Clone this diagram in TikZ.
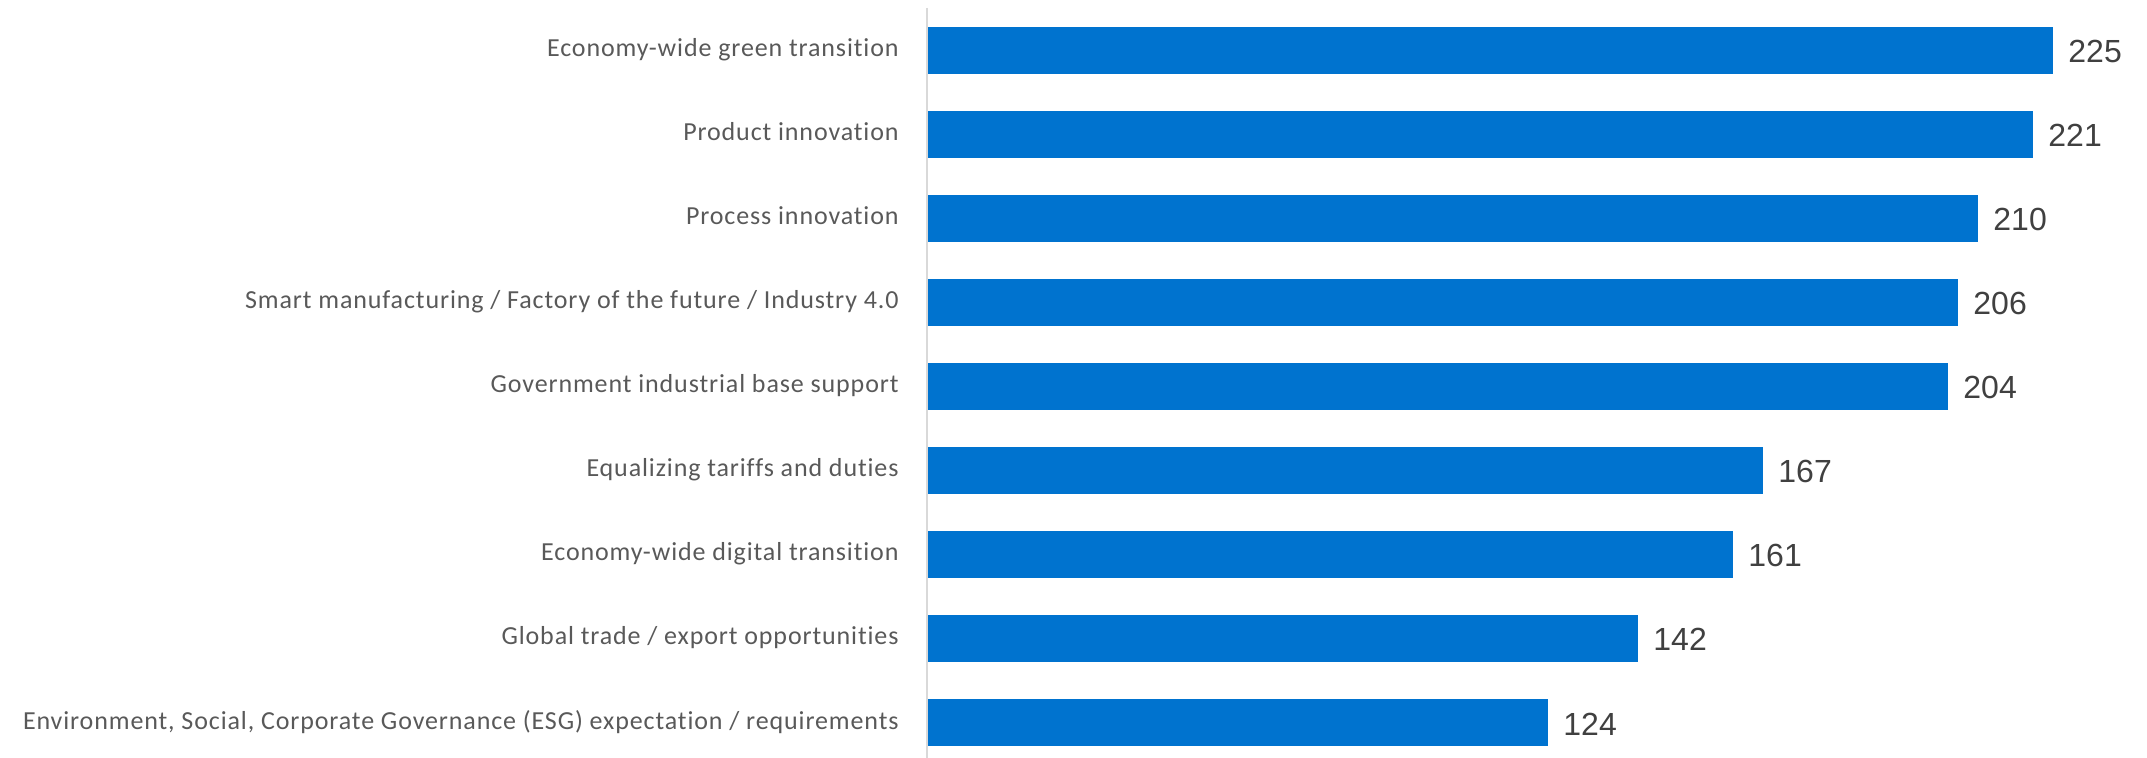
\documentclass[tikz,border=0pt]{standalone}
\usepackage{fontspec}
\setmainfont{Carlito}[LetterSpace=3.4,Ligatures=NoCommon]
\newfontfamily\numfont{Liberation Sans}
\definecolor{barblue}{HTML}{0073CF}
\definecolor{labgray}{HTML}{595959}
\definecolor{numgray}{HTML}{404040}
\definecolor{axisgray}{HTML}{D9D9D9}
\begin{document}
\begin{tikzpicture}[x=0.5pt,y=-0.5pt,
  bar/.style={fill=barblue,draw=none},
  catlabel/.style={anchor=base east,inner sep=0pt,text=labgray,font=\fontsize{13}{15}\selectfont},
  vallabel/.style={anchor=base west,inner sep=0pt,text=numgray,font=\numfont\fontsize{16}{18}\selectfont}]
\useasboundingbox (0,0) rectangle (2147,758);
\draw[axisgray,line width=1.2pt] (927,8) coordinate (axtop) -- (927,758) coordinate (axbot);
\foreach \i/\v/\t in {0/225/{Economy-wide green transition},
  1/221/{Product innovation},
  2/210/{Process innovation},
  3/206/{Smart manufacturing / Factory of the future / Industry 4.0},
  4/204/{Government industrial base support},
  5/167/{Equalizing tariffs and duties},
  6/161/{Economy-wide digital transition},
  7/142/{Global trade / export opportunities},
  8/124/{Environment, Social, Corporate Governance (ESG) expectation / requirements}} {
  \pgfmathsetmacro{\top}{27+84*\i}
  \pgfmathsetmacro{\right}{928+5*\v}
  \fill[bar] (928,\top) rectangle (\right,\top+47);
  \node[catlabel] (lab\i) at (899,\top+30) {\t};
  \node[vallabel] (val\i) at (\right+15,\top+36) {\v};
}
\end{tikzpicture}
\end{document}
